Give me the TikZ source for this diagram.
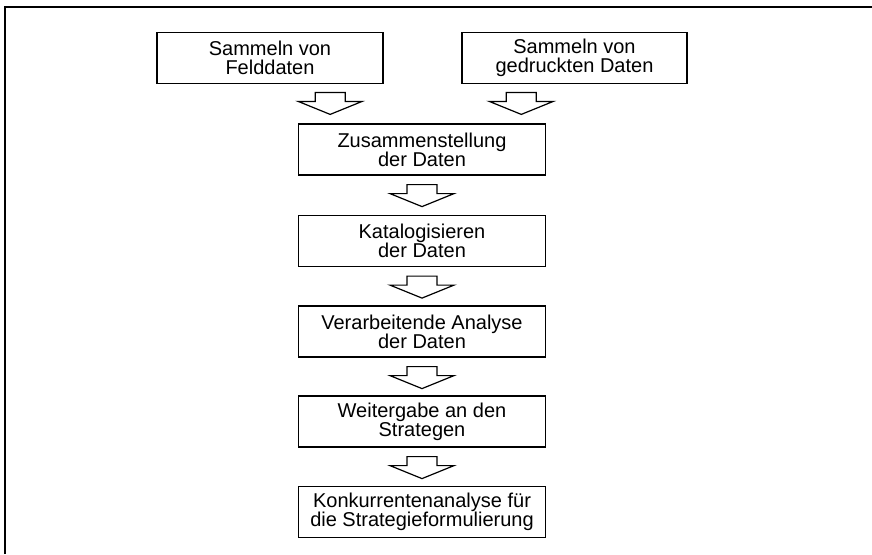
\documentclass[tikz,border=0pt]{standalone}
\usepackage{fontspec}
\setmainfont{Liberation Sans}
\usetikzlibrary{calc}
\begin{document}
\begin{tikzpicture}[x=1pt, y=-1pt,
  box/.style={draw, line width=1.2pt, inner sep=0pt, align=center,
    minimum height=51pt, font=\fontsize{20}{19}\selectfont},
  wide/.style={box, minimum width=247pt},
  frameline/.style={line width=2pt},
  blockarrow/.pic={
    \draw[line width=1.2pt, line join=miter]
      (-15,0) -- (-15,9) -- (-32,9) -- (0,22) -- (32,9) -- (15,9) -- (15,0) -- cycle;
  }]
\useasboundingbox (0,0) rectangle (872,554);

% outer frame (top and left edges)
\draw[frameline] (5,554) -- (5,6.5) -- (872,6.5);

% two sources
\node[box, minimum width=226pt] (feld) at (270,58) {Sammeln von\\Felddaten};
\node[box, minimum width=225pt] (druck) at (574.5,58) {Sammeln von\\gedruckten Daten};

% main chain
\node[wide] (zus) at (422,149.5) {Zusammenstellung\\der Daten};
\node[wide] (kat) at (422,241) {Katalogisieren\\der Daten};
\node[wide] (ver) at (422,331.5) {Verarbeitende Analyse\\der Daten};
\node[wide] (weit) at (422,421.5) {Weitergabe an den\\Strategen};
\node[wide] (konk) at (422,512) {Konkurrentenanalyse für\\die Strategieformulierung};

% block arrows
\pic at ($(zus.north west)!0.13!(zus.north east)+(0,-31)$) {blockarrow};
\pic at ($(zus.north west)!0.9!(zus.north east)+(0,-31)$) {blockarrow};
\pic at ($(zus.south)+(0,9)$) {blockarrow};
\pic at ($(kat.south)+(0,9)$) {blockarrow};
\pic at ($(ver.south)+(0,9)$) {blockarrow};
\pic at ($(weit.south)+(0,9)$) {blockarrow};
\end{tikzpicture}
\end{document}
